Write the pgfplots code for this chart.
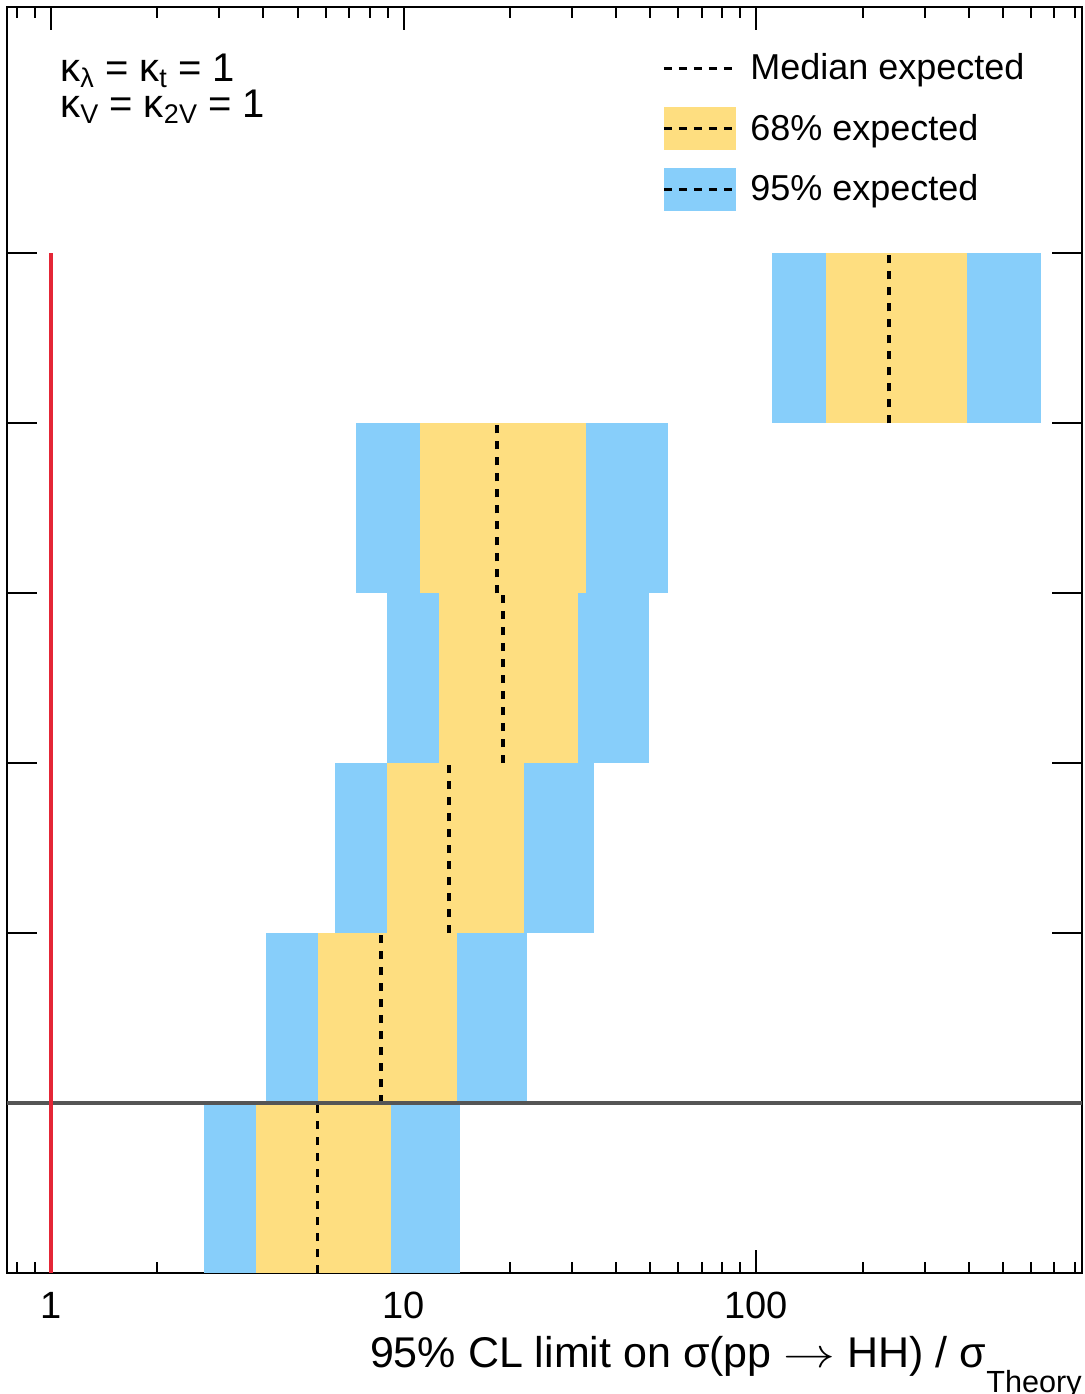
\documentclass[border=0pt]{standalone}
\usepackage{fontspec}
\setmainfont{Liberation Sans}
\usepackage{graphicx}
\usepackage{pgfplots}
\pgfplotsset{compat=1.18}

\definecolor{band95}{RGB}{135,206,250}
\definecolor{band68}{RGB}{254,222,128}
\definecolor{limred}{RGB}{228,38,54}
\definecolor{refgray}{RGB}{85,85,85}

% ROOT-like subscript
\newcommand{\sub}[1]{\raisebox{-3pt}{\fontsize{13.5}{13.5}\selectfont #1}}

\pgfplotsset{
  medleg/.style={legend image code/.code={
      \path[draw=none, fill=none] (0pt,-10.75pt) rectangle (36pt,10.75pt);
      \draw[black, line width=1.5pt, dash pattern=on 4pt off 3.5pt] (0pt,0pt) -- (36pt,0pt);}},
  leg68/.style={legend image code/.code={
      \fill[band68, draw=none] (0pt,-10.75pt) rectangle (36pt,10.75pt);
      \draw[black, line width=1.5pt, dash pattern=on 4pt off 3.5pt] (0pt,0pt) -- (36pt,0pt);}},
  leg95/.style={legend image code/.code={
      \fill[band95, draw=none] (0pt,-10.75pt) rectangle (36pt,10.75pt);
      \draw[black, line width=1.5pt, dash pattern=on 4pt off 3.5pt] (0pt,0pt) -- (36pt,0pt);}},
  med/.style={black, line width=1.6pt, dash pattern=on 4pt off 4pt},
}

\begin{document}
\begin{tikzpicture}
\begin{axis}[
  scale only axis,
  width=537.5pt, height=633pt,
  xmode=log,
  xmin=0.75, xmax=838,
  ymin=0, ymax=7.45,
  axis line style={line width=1.2pt},
  tick style={black, line width=1pt},
  tick align=inside,
  major tick length=11.5pt,
  minor tick length=5.5pt,
  xtick={1,10,100},
  xticklabels={1,10,100},
  minor xtick={0.8,0.9,2,3,4,5,6,7,8,9,20,30,40,50,60,70,80,90,200,300,400,500,600,700,800},
  ytick={1,2,3,4,5,6},
  yticklabels={},
  ytick style={/pgfplots/major tick length=15pt},
  xticklabel style={font=\fontsize{19}{19}\selectfont, anchor=base, yshift=-22.5pt},
  xlabel={95\% CL limit on σ(pp \scalebox{1.25}[1]{$\rightarrow$} HH) / σ\raisebox{-12.5pt}{\fontsize{15.3}{15.3}\selectfont Theory}},
  xlabel style={at={(rel axis cs:1,0)}, anchor=base east, yshift=-47pt,
    font=\fontsize{21.5}{21.5}\selectfont, inner sep=0pt},
  legend style={at={(0.6093,0.9688)}, anchor=north west, draw=none, fill=none,
    font=\fontsize{18}{18}\selectfont, row sep=8.75pt, column sep=6.5pt,
    inner sep=0pt, nodes={inner sep=0pt}},
  legend cell align=left,
]

\addlegendimage{medleg}\addlegendentry{Median expected}
\addlegendimage{leg68}\addlegendentry{68\% expected}
\addlegendimage{leg95}\addlegendentry{95\% expected}

% 95% bands
\addplot[fill=band95, draw=none] coordinates {(2.716,0) (14.44,0) (14.44,1) (2.716,1)} -- cycle;
\addplot[fill=band95, draw=none] coordinates {(4.07,1) (22.37,1) (22.37,2) (4.07,2)} -- cycle;
\addplot[fill=band95, draw=none] coordinates {(6.39,2) (34.6,2) (34.6,3) (6.39,3)} -- cycle;
\addplot[fill=band95, draw=none] coordinates {(8.94,3) (49.6,3) (49.6,4) (8.94,4)} -- cycle;
\addplot[fill=band95, draw=none] coordinates {(7.32,4) (56.1,4) (56.1,5) (7.32,5)} -- cycle;
\addplot[fill=band95, draw=none] coordinates {(110.7,5) (641,5) (641,6) (110.7,6)} -- cycle;

% 68% bands
\addplot[fill=band68, draw=none] coordinates {(3.813,0) (9.20,0) (9.20,1) (3.813,1)} -- cycle;
\addplot[fill=band68, draw=none] coordinates {(5.71,1) (14.16,1) (14.16,2) (5.71,2)} -- cycle;
\addplot[fill=band68, draw=none] coordinates {(8.97,2) (21.94,2) (21.94,3) (8.97,3)} -- cycle;
\addplot[fill=band68, draw=none] coordinates {(12.59,3) (31.2,3) (31.2,4) (12.59,4)} -- cycle;
\addplot[fill=band68, draw=none] coordinates {(11.13,4) (32.9,4) (32.9,5) (11.13,5)} -- cycle;
\addplot[fill=band68, draw=none] coordinates {(157.6,5) (395.5,5) (395.5,6) (157.6,6)} -- cycle;

% medians
\addplot[med] coordinates {(5.68,0) (5.68,1)};
\addplot[med] coordinates {(8.62,1) (8.62,2)};
\addplot[med] coordinates {(13.44,2) (13.44,3)};
\addplot[med] coordinates {(19.12,3) (19.12,4)};
\addplot[med] coordinates {(18.39,4) (18.39,5)};
\addplot[med] coordinates {(237.7,5) (237.7,6)};

% reference lines
\addplot[refgray, line width=2pt] coordinates {(0.75,1) (838,1)};
\addplot[limred, line width=1.6pt] coordinates {(1,0) (1,6)};

\node[anchor=base west, font=\fontsize{20}{20}\selectfont, inner sep=0pt]
  at (rel axis cs:0.0493,0.9408) {κ\sub{λ} = κ\sub{t} = 1};
\node[anchor=base west, font=\fontsize{20}{20}\selectfont, inner sep=0pt]
  at (rel axis cs:0.0493,0.9131) {κ\sub{V} = κ\sub{2V} = 1};

\coordinate (bl) at (rel axis cs:0,0);
\coordinate (tr) at (rel axis cs:1,1);
\end{axis}
\pgfresetboundingbox
\useasboundingbox ([shift={(-3.5pt,-60.5pt)}]bl) rectangle ([shift={(1pt,3.5pt)}]tr);
\end{tikzpicture}
\end{document}
